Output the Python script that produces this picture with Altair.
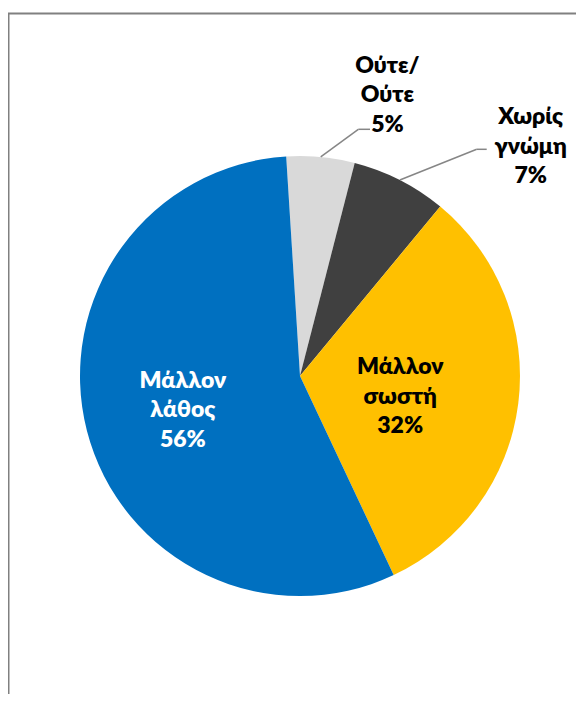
import math
import altair as alt
import pandas as pd

# ---- data ----
categories = ["Ούτε/Ούτε", "Χωρίς γνώμη", "Μάλλον σωστή", "Μάλλον λάθος"]
labels = ["Ούτε/\nΟύτε\n5%", "Χωρίς\nγνώμη\n7%", "Μάλλον\nσωστή\n32%", "Μάλλον\nλάθος\n56%"]
values = [5, 7, 32, 56]
colors = ["#D9D9D9", "#404040", "#FFC000", "#0070C0"]

df = pd.DataFrame({"cat": categories, "label": labels, "value": values,
                   "idx": list(range(len(values)))})

# ---- layout ----
W, H = 568, 686
CX, CY, R = 292, 368, 220
START_DEG = -3.6
START = math.radians(START_DEG)
FONT = "Lato"
LH = 29.5
theta_scale = alt.Scale(domain=[0, 100], range=[START, START + 2 * math.pi])

base = alt.Chart(df)

pie = base.mark_arc(outerRadius=R).encode(
    theta=alt.Theta("value:Q", stack=True, scale=theta_scale),
    color=alt.Color("cat:N", scale=alt.Scale(domain=categories, range=colors), legend=None),
    order=alt.Order("idx:Q"),
    x=alt.value(CX),
    y=alt.value(CY),
)


def label_layer(i, radius, dx, dy, color):
    return (
        base.transform_window(cum="sum(value)", sort=[alt.SortField("idx")], frame=[None, 0])
        .transform_calculate(mid="datum.cum - datum.value / 2")
        .transform_filter(alt.datum.idx == i)
        .mark_text(radius=radius, dx=dx, dy=dy - LH, color=color, font=FONT, fontSize=23,
                   fontWeight=800, lineBreak="\n", lineHeight=LH,
                   align="center", baseline="middle")
        .encode(
            theta=alt.Theta("mid:Q", stack=None, scale=theta_scale),
            text="label:N",
            x=alt.value(CX),
            y=alt.value(CY),
        )
    )


texts = [
    label_layer(0, 270, 62, -12, "#000000"),
    label_layer(1, 290, 99, 29, "#000000"),
    label_layer(2, 102, -1, 8, "#000000"),
    label_layer(3, 122, 1, 4, "#FFFFFF"),
]

# leader lines: start at the slice's mid-angle on the pie edge
cum = 0.0
mids = []
for v in values:
    mids.append(START_DEG + (cum + v / 2) * 3.6)
    cum += v


def edge_point(deg):
    a = math.radians(deg)
    return CX + R * math.sin(a), CY - R * math.cos(a)


one = alt.Chart(pd.DataFrame({"a": [0]}))
leaders = []
for i, (ex, ey, ln) in zip([0, 1], [(350.3, 121.3, 11.7), (468.7, 141.3, 10.0)]):
    sx, sy = edge_point(mids[i])
    leaders.append(one.mark_rule(color="#868686", strokeWidth=1.5).encode(
        x=alt.value(sx), y=alt.value(sy), x2=alt.value(ex), y2=alt.value(ey)))
    leaders.append(one.mark_rule(color="#868686", strokeWidth=1.5).encode(
        x=alt.value(ex), y=alt.value(ey), x2=alt.value(ex + ln), y2=alt.value(ey)))

frame_left = one.mark_rule(color="#808080", strokeWidth=2).encode(
    x=alt.value(0.5), y=alt.value(5.5), y2=alt.value(1000))
frame_top = one.mark_rule(color="#808080", strokeWidth=2).encode(
    x=alt.value(0), x2=alt.value(1000), y=alt.value(5.5))

chart = alt.layer(frame_left, frame_top, pie, *leaders, *texts).properties(
    width=W, height=H, padding=0, autosize=alt.AutoSizeParams(type="none")
).configure_view(strokeWidth=0)

chart.save("out.html", embed_options={"renderer": "svg", "actions": False})
